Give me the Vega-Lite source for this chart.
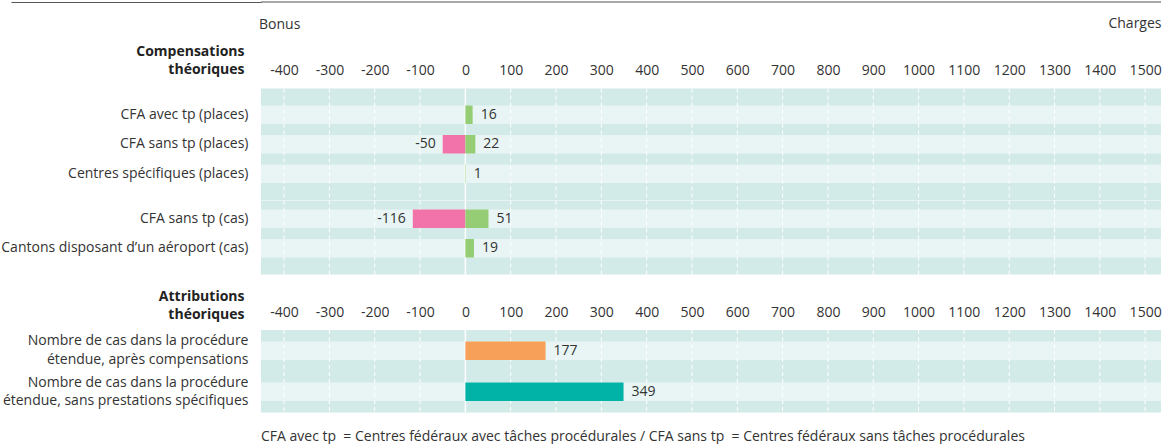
{
  "$schema": "https://vega.github.io/schema/vega-lite/v6.json",
  "background": "white",
  "padding": {"left": 0, "top": 1, "right": 2, "bottom": 0},
  "datasets": {
    "valeurs": [
      {"panneau": "A", "ligne": "CFA avec tp (places)", "categorie": "Charges", "valeur": 16},
      {"panneau": "A", "ligne": "CFA sans tp (places)", "categorie": "Bonus", "valeur": -50},
      {"panneau": "A", "ligne": "CFA sans tp (places)", "categorie": "Charges", "valeur": 22},
      {"panneau": "A", "ligne": "Centres spécifiques (places)", "categorie": "Charges", "valeur": 1},
      {"panneau": "B", "ligne": "CFA sans tp (cas)", "categorie": "Bonus", "valeur": -116},
      {"panneau": "B", "ligne": "CFA sans tp (cas)", "categorie": "Charges", "valeur": 51},
      {"panneau": "B", "ligne": "Cantons disposant d’un aéroport (cas)", "categorie": "Charges", "valeur": 19},
      {"panneau": "C", "ligne": "Nombre de cas dans la procédure\nétendue, après compensations", "categorie": "Après compensations", "valeur": 177},
      {"panneau": "C", "ligne": "Nombre de cas dans la procédure\nétendue, sans prestations spécifiques", "categorie": "Sans prestations spécifiques", "valeur": 349}
    ],
    "graduations": [
      {"v": -400}, {"v": -300}, {"v": -200}, {"v": -100}, {"v": 0}, {"v": 100}, {"v": 200}, {"v": 300}, {"v": 400}, {"v": 500},
      {"v": 600}, {"v": 700}, {"v": 800}, {"v": 900}, {"v": 1000}, {"v": 1100}, {"v": 1200}, {"v": 1300}, {"v": 1400}, {"v": 1500}
    ]
  },
  "concat": [
    {
      "width": 900,
      "height": 1,
      "view": {"fill": null, "stroke": null},
      "data": {"values": [{}]},
      "mark": {"type": "rule", "color": "#555555", "strokeWidth": 1.2},
      "encoding": {"y": {"datum": 1, "type": "quantitative", "scale": {"domain": [0, 1]},
        "axis": {"labels": false, "title": null, "domain": false, "ticks": true, "values": [1], "tickSize": 250, "tickColor": "#555555", "tickWidth": 1.2, "minExtent": 250, "maxExtent": 250}}}
    },
    {
      "bounds": "flush",
      "spacing": 0,
      "resolve": {"scale": {"y": "independent"}},
      "vconcat": [
        {
          "width": 900,
          "height": 111.5,
          "data": {"name": "valeurs"},
          "title": {"text": "Bonus", "anchor": "start", "frame": "group", "baseline": "alphabetic", "offset": -15, "dy": 11, "dx": -2, "fontSize": 14, "fontWeight": "normal", "color": "#333333", "font": "Open Sans"},
          "layer": [
            {
              "transform": [{"filter": "datum.panneau === 'A'"}, {"aggregate": [{"op": "count", "as": "n"}], "groupby": ["ligne"]}],
              "mark": {"type": "rect", "color": "#e8f5f4"},
              "encoding": {
                "y": {"field": "ligne", "type": "nominal", "sort": null,
                  "scale": {"domain": ["CFA avec tp (places)", "CFA sans tp (places)", "Centres spécifiques (places)"], "paddingInner": 0.3729, "paddingOuter": 0.5763},
                  "axis": {"title": ["Compensations", "théoriques"], "titleX": -17, "titleY": -33}}
              }
            },
            {
              "data": {"name": "graduations"},
              "mark": {"type": "rule", "color": "white"},
              "encoding": {
                "x": {"field": "v", "type": "quantitative", "scale": {"domain": [-451, 1535], "nice": false},
                  "axis": {"orient": "top", "values": [-400, -300, -200, -100, 0, 100, 200, 300, 400, 500, 600, 700, 800, 900, 1000, 1100, 1200, 1300, 1400, 1500], "title": "Charges", "titleX": 900, "titleY": -61, "titleAlign": "right", "titleBaseline": "alphabetic", "titleAnchor": "end"}},
                "strokeDash": {"condition": {"test": "datum.v === 0", "value": [1, 0]}, "value": [4, 3]},
                "strokeWidth": {"condition": {"test": "datum.v === 0", "value": 1.5}, "value": 1}
              }
            },
            {
              "transform": [{"filter": "datum.panneau === 'A'"}],
              "mark": {"type": "bar"},
              "encoding": {
                "x": {"field": "valeur", "type": "quantitative", "scale": {"domain": [-451, 1535], "nice": false},
                  "axis": {"orient": "top", "values": [-400, -300, -200, -100, 0, 100, 200, 300, 400, 500, 600, 700, 800, 900, 1000, 1100, 1200, 1300, 1400, 1500], "title": "Charges", "titleX": 900, "titleY": -61, "titleAlign": "right", "titleBaseline": "alphabetic", "titleAnchor": "end"}},
                "y": {"field": "ligne", "type": "nominal", "sort": null,
                  "scale": {"domain": ["CFA avec tp (places)", "CFA sans tp (places)", "Centres spécifiques (places)"], "paddingInner": 0.3729, "paddingOuter": 0.5763},
                  "axis": {"title": ["Compensations", "théoriques"], "titleX": -17, "titleY": -33}},
                "color": {"field": "categorie", "type": "nominal", "legend": null,
                  "scale": {"domain": ["Bonus", "Charges", "Après compensations", "Sans prestations spécifiques"], "range": ["#f272aa", "#94cd74", "#f6a05a", "#00b3a6"]}}
              }
            },
            {
              "transform": [{"filter": "datum.panneau === 'A' && datum.valeur > 0"}],
              "mark": {"type": "text", "align": "left", "baseline": "middle", "dx": 8, "fontSize": 14, "color": "#333333", "font": "Open Sans"},
              "encoding": {
                "x": {"field": "valeur", "type": "quantitative", "scale": {"domain": [-451, 1535], "nice": false},
                  "axis": {"orient": "top", "values": [-400, -300, -200, -100, 0, 100, 200, 300, 400, 500, 600, 700, 800, 900, 1000, 1100, 1200, 1300, 1400, 1500], "title": "Charges", "titleX": 900, "titleY": -61, "titleAlign": "right", "titleBaseline": "alphabetic", "titleAnchor": "end"}},
                "y": {"field": "ligne", "type": "nominal", "sort": null,
                  "scale": {"domain": ["CFA avec tp (places)", "CFA sans tp (places)", "Centres spécifiques (places)"], "paddingInner": 0.3729, "paddingOuter": 0.5763},
                  "axis": {"title": ["Compensations", "théoriques"], "titleX": -17, "titleY": -33}},
                "text": {"field": "valeur", "type": "quantitative"}
              }
            },
            {
              "transform": [{"filter": "datum.panneau === 'A' && datum.valeur < 0"}],
              "mark": {"type": "text", "align": "right", "baseline": "middle", "dx": -7, "fontSize": 14, "color": "#333333", "font": "Open Sans"},
              "encoding": {
                "x": {"field": "valeur", "type": "quantitative", "scale": {"domain": [-451, 1535], "nice": false},
                  "axis": {"orient": "top", "values": [-400, -300, -200, -100, 0, 100, 200, 300, 400, 500, 600, 700, 800, 900, 1000, 1100, 1200, 1300, 1400, 1500], "title": "Charges", "titleX": 900, "titleY": -61, "titleAlign": "right", "titleBaseline": "alphabetic", "titleAnchor": "end"}},
                "y": {"field": "ligne", "type": "nominal", "sort": null,
                  "scale": {"domain": ["CFA avec tp (places)", "CFA sans tp (places)", "Centres spécifiques (places)"], "paddingInner": 0.3729, "paddingOuter": 0.5763},
                  "axis": {"title": ["Compensations", "théoriques"], "titleX": -17, "titleY": -33}},
                "text": {"field": "valeur", "type": "quantitative"}
              }
            }
          ]
        },
        {
          "width": 900,
          "height": 74,
          "data": {"name": "valeurs"},
          "layer": [
            {
              "transform": [{"filter": "datum.panneau === 'B'"}, {"aggregate": [{"op": "count", "as": "n"}], "groupby": ["ligne"]}],
              "mark": {"type": "rect", "color": "#e8f5f4", "yOffset": -4, "y2Offset": -4},
              "encoding": {
                "y": {"field": "ligne", "type": "nominal", "sort": null,
                  "scale": {"domain": ["CFA sans tp (cas)", "Cantons disposant d’un aéroport (cas)"], "paddingInner": 0.3729, "paddingOuter": 0.4407},
                  "axis": {"title": null, "labelOffset": -4}}
              }
            },
            {
              "data": {"name": "graduations"},
              "mark": {"type": "rule", "color": "white"},
              "encoding": {
                "x": {"field": "v", "type": "quantitative", "scale": {"domain": [-451, 1535], "nice": false}, "axis": null},
                "strokeDash": {"condition": {"test": "datum.v === 0", "value": [1, 0]}, "value": [4, 3]},
                "strokeWidth": {"condition": {"test": "datum.v === 0", "value": 1.5}, "value": 1}
              }
            },
            {
              "transform": [{"filter": "datum.panneau === 'B'"}],
              "mark": {"type": "bar", "yOffset": -4, "y2Offset": -4},
              "encoding": {
                "x": {"field": "valeur", "type": "quantitative", "scale": {"domain": [-451, 1535], "nice": false}, "axis": null},
                "y": {"field": "ligne", "type": "nominal", "sort": null,
                  "scale": {"domain": ["CFA sans tp (cas)", "Cantons disposant d’un aéroport (cas)"], "paddingInner": 0.3729, "paddingOuter": 0.4407},
                  "axis": {"title": null, "labelOffset": -4}},
                "color": {"field": "categorie", "type": "nominal", "legend": null,
                  "scale": {"domain": ["Bonus", "Charges", "Après compensations", "Sans prestations spécifiques"], "range": ["#f272aa", "#94cd74", "#f6a05a", "#00b3a6"]}}
              }
            },
            {
              "transform": [{"filter": "datum.panneau === 'B' && datum.valeur > 0"}],
              "mark": {"type": "text", "align": "left", "baseline": "middle", "dx": 8, "dy": -4, "fontSize": 14, "color": "#333333", "font": "Open Sans"},
              "encoding": {
                "x": {"field": "valeur", "type": "quantitative", "scale": {"domain": [-451, 1535], "nice": false}, "axis": null},
                "y": {"field": "ligne", "type": "nominal", "sort": null,
                  "scale": {"domain": ["CFA sans tp (cas)", "Cantons disposant d’un aéroport (cas)"], "paddingInner": 0.3729, "paddingOuter": 0.4407},
                  "axis": {"title": null, "labelOffset": -4}},
                "text": {"field": "valeur", "type": "quantitative"}
              }
            },
            {
              "transform": [{"filter": "datum.panneau === 'B' && datum.valeur < 0"}],
              "mark": {"type": "text", "align": "right", "baseline": "middle", "dx": -7, "dy": -4, "fontSize": 14, "color": "#333333", "font": "Open Sans"},
              "encoding": {
                "x": {"field": "valeur", "type": "quantitative", "scale": {"domain": [-451, 1535], "nice": false}, "axis": null},
                "y": {"field": "ligne", "type": "nominal", "sort": null,
                  "scale": {"domain": ["CFA sans tp (cas)", "Cantons disposant d’un aéroport (cas)"], "paddingInner": 0.3729, "paddingOuter": 0.4407},
                  "axis": {"title": null, "labelOffset": -4}},
                "text": {"field": "valeur", "type": "quantitative"}
              }
            }
          ]
        }
      ]
    },
    {
      "width": 900,
      "height": 82.5,
      "data": {"name": "valeurs"},
      "title": {"text": "CFA avec tp\u00a0 = Centres fédéraux avec tâches procédurales / CFA sans tp\u00a0 = Centres fédéraux sans tâches procédurales", "orient": "bottom", "anchor": "start", "frame": "group", "baseline": "top", "offset": 17, "fontSize": 14, "fontWeight": "normal", "color": "#333333", "font": "Open Sans"},
      "layer": [
        {
          "transform": [{"filter": "datum.panneau === 'C'"}, {"aggregate": [{"op": "count", "as": "n"}], "groupby": ["ligne"]}],
          "mark": {"type": "rect", "color": "#e8f5f4"},
          "encoding": {
            "y": {"field": "ligne", "type": "nominal", "sort": null,
              "scale": {"domain": ["Nombre de cas dans la procédure\nétendue, après compensations", "Nombre de cas dans la procédure\nétendue, sans prestations spécifiques"], "paddingInner": 0.549, "paddingOuter": 0.28},
              "axis": {"title": ["Attributions", "théoriques"], "titleX": -17, "titleY": -30, "labelExpr": "split(datum.label, '\\n')", "labelOffset": -9.25, "labelLineHeight": 18.5}}
          }
        },
        {
          "data": {"name": "graduations"},
          "mark": {"type": "rule", "color": "white"},
          "encoding": {
            "x": {"field": "v", "type": "quantitative", "scale": {"domain": [-451, 1535], "nice": false},
              "axis": {"orient": "top", "values": [-400, -300, -200, -100, 0, 100, 200, 300, 400, 500, 600, 700, 800, 900, 1000, 1100, 1200, 1300, 1400, 1500], "title": null}},
            "strokeDash": {"condition": {"test": "datum.v === 0", "value": [1, 0]}, "value": [4, 3]},
            "strokeWidth": {"condition": {"test": "datum.v === 0", "value": 1.5}, "value": 1}
          }
        },
        {
          "transform": [{"filter": "datum.panneau === 'C'"}],
          "mark": {"type": "bar"},
          "encoding": {
            "x": {"field": "valeur", "type": "quantitative", "scale": {"domain": [-451, 1535], "nice": false},
              "axis": {"orient": "top", "values": [-400, -300, -200, -100, 0, 100, 200, 300, 400, 500, 600, 700, 800, 900, 1000, 1100, 1200, 1300, 1400, 1500], "title": null}},
            "y": {"field": "ligne", "type": "nominal", "sort": null,
              "scale": {"domain": ["Nombre de cas dans la procédure\nétendue, après compensations", "Nombre de cas dans la procédure\nétendue, sans prestations spécifiques"], "paddingInner": 0.549, "paddingOuter": 0.28},
              "axis": {"title": ["Attributions", "théoriques"], "titleX": -17, "titleY": -30, "labelExpr": "split(datum.label, '\\n')", "labelOffset": -9.25, "labelLineHeight": 18.5}},
            "color": {"field": "categorie", "type": "nominal", "legend": null,
              "scale": {"domain": ["Bonus", "Charges", "Après compensations", "Sans prestations spécifiques"], "range": ["#f272aa", "#94cd74", "#f6a05a", "#00b3a6"]}}
          }
        },
        {
          "transform": [{"filter": "datum.panneau === 'C' && datum.valeur > 0"}],
          "mark": {"type": "text", "align": "left", "baseline": "middle", "dx": 8, "fontSize": 14, "color": "#333333", "font": "Open Sans"},
          "encoding": {
            "x": {"field": "valeur", "type": "quantitative", "scale": {"domain": [-451, 1535], "nice": false},
              "axis": {"orient": "top", "values": [-400, -300, -200, -100, 0, 100, 200, 300, 400, 500, 600, 700, 800, 900, 1000, 1100, 1200, 1300, 1400, 1500], "title": null}},
            "y": {"field": "ligne", "type": "nominal", "sort": null,
              "scale": {"domain": ["Nombre de cas dans la procédure\nétendue, après compensations", "Nombre de cas dans la procédure\nétendue, sans prestations spécifiques"], "paddingInner": 0.549, "paddingOuter": 0.28},
              "axis": {"title": ["Attributions", "théoriques"], "titleX": -17, "titleY": -30, "labelExpr": "split(datum.label, '\\n')", "labelOffset": -9.25, "labelLineHeight": 18.5}},
            "text": {"field": "valeur", "type": "quantitative"}
          }
        }
      ]
    }
  ],
  "columns": 1,
  "align": "none",
  "bounds": "full",
  "spacing": 13.5,
  "resolve": {"scale": {"y": "independent"}},
  "config": {
    "font": "Open Sans",
    "view": {"fill": "#d2ebe8", "stroke": null},
    "locale": {"number": {"decimal": ".", "thousands": "", "grouping": [3], "currency": ["", ""], "minus": "-"}},
    "axis": {"grid": false, "domain": false, "ticks": false, "tickSize": 0, "labelFont": "Open Sans", "labelFontSize": 14, "labelColor": "#333333", "titleFont": "Open Sans"},
    "axisX": {"labelPadding": 14, "labelBaseline": "alphabetic", "labelFlush": false, "labelOverlap": false, "titleFontWeight": "normal", "titleFontSize": 14, "titleColor": "#333333"},
    "axisY": {"labelPadding": 13, "labelLimit": 0, "minExtent": 260, "maxExtent": 260, "titleAngle": 0, "titleAlign": "right", "titleBaseline": "alphabetic", "titleFontWeight": "bold", "titleFontSize": 14, "titleColor": "#222222", "titleLineHeight": 18}
  }
}
